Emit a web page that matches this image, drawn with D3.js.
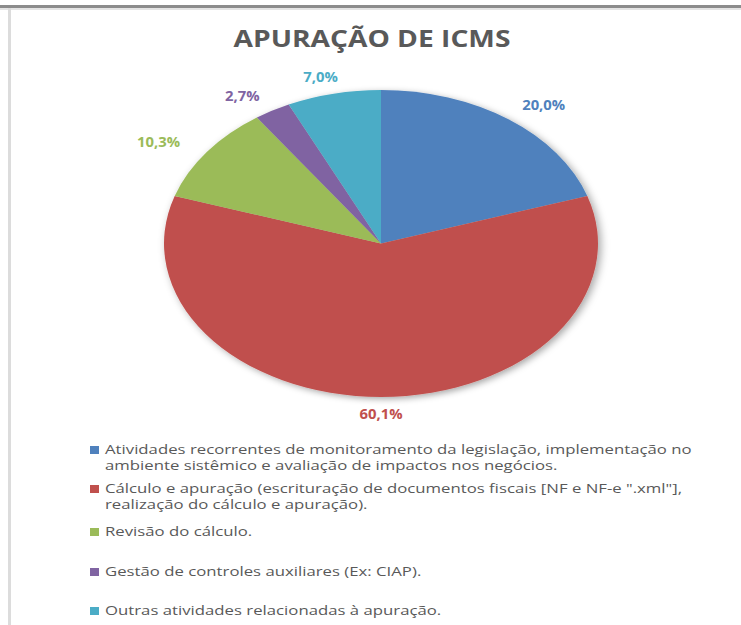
<!DOCTYPE html>
<html>
<head>
<meta charset="utf-8">
<script src="https://cdn.jsdelivr.net/npm/d3@7"></script>
<style>
  html, body { margin: 0; padding: 0; background: #fff; }
  svg { display: block; }
</style>
</head>
<body>
<div id="chart"></div>
<script>
const categories = [
    'Atividades recorrentes de monitoramento da legislação, implementação no|ambiente sistêmico e avaliação de impactos nos negócios.',
    'Cálculo e apuração (escrituração de documentos fiscais [NF e NF-e ".xml"],|realização do cálculo e apuração).',
    'Revisão do cálculo.',
    'Gestão de controles auxiliares (Ex: CIAP).',
    'Outras atividades relacionadas à apuração.'
];
const values = [20.0, 60.1, 10.3, 2.7, 7.0];
const colors = ['#4f81bd', '#c0504d', '#9bbb59', '#8064a2', '#4bacc6'];
const title = 'APURAÇÃO DE ICMS';

const width = 741;
const height = 625;
const cx = 381, cy = 243.5;
const R = 153.5;       // vertical radius
const rx = 217;        // horizontal radius (chart is stretched)
const sx = rx / R;

const svg = d3.select('#chart')
    .append('svg')
    .attr('width', width)
    .attr('height', height);

const defs = svg.append('defs');
const f = defs.append('filter').attr('id', 'shadow')
    .attr('x', '-20%').attr('y', '-20%').attr('width', '140%').attr('height', '140%');
f.append('feDropShadow')
    .attr('dx', 2).attr('dy', 2).attr('stdDeviation', 3)
    .attr('flood-color', '#000').attr('flood-opacity', 0.35);

// frame lines
svg.append('rect').attr('x', 0).attr('y', 5).attr('width', width).attr('height', 3).attr('fill', '#8c8c8c');
svg.append('rect').attr('x', 0).attr('y', 8).attr('width', width).attr('height', 2).attr('fill', '#e4e4e4');
svg.append('rect').attr('x', 8).attr('y', 8).attr('width', 3).attr('height', height).attr('fill', '#dcdcdc');

// title, widened like the stretched original
const t = svg.append('text')
    .attr('x', 0).attr('y', 0)
    .attr('text-anchor', 'middle')
    .style('font-family', '"Open Sans", sans-serif')
    .style('font-weight', 'bold')
    .style('font-size', '24px')
    .attr('fill', '#595959')
    .text(title);
const tw = t.node().getComputedTextLength();
t.attr('transform', `translate(372,47) scale(${277 / tw},1)`);

const pie = d3.pie().sort(null).value(d => d)
    .startAngle(0).endAngle(2 * Math.PI);
const arcs = pie(values);
const arc = d3.arc().innerRadius(0).outerRadius(R);

const g = svg.append('g')
    .attr('transform', `translate(${cx},${cy}) scale(${sx},1)`)
    .attr('filter', 'url(#shadow)');

g.selectAll('path')
    .data(arcs)
    .enter()
    .append('path')
    .attr('fill', (d, i) => colors[i])
    .attr('d', arc);

// labels (outside end)
const fmt = d3.format('.1f');
const offX = 60, offY = 17;
svg.append('g')
    .selectAll('text')
    .data(arcs)
    .enter()
    .append('text')
    .attr('transform', d => {
        const a = (d.startAngle + d.endAngle) / 2;
        const x = cx + Math.sin(a) * (rx + offX);
        const y = cy - Math.cos(a) * (R + offY);
        return `translate(${x},${y}) scale(1.1,1)`;
    })
    .attr('dy', '0.35em')
    .attr('text-anchor', 'middle')
    .style('font-family', '"Open Sans", sans-serif')
    .style('font-weight', 'bold')
    .style('font-size', '13.5px')
    .attr('fill', (d, i) => colors[i])
    .text(d => fmt(d.data).replace('.', ',') + '%');

// legend
const legendY = [454, 493, 536, 576, 615];
const lineH = 16.5;
const legend = svg.append('g');
const items = legend.selectAll('g')
    .data(categories)
    .enter()
    .append('g')
    .attr('transform', (d, i) => `translate(0,${legendY[i]})`);

items.append('rect')
    .attr('x', 90).attr('y', -8)
    .attr('width', 9).attr('height', 8)
    .attr('fill', (d, i) => colors[i]);

const texts = items.append('text')
    .style('font-family', '"Open Sans", sans-serif')
    .style('font-size', '13px')
    .attr('fill', '#595959');

texts.selectAll('tspan')
    .data(d => d.split('|'))
    .enter()
    .append('tspan')
    .attr('x', 0)
    .attr('y', (d, i) => i * lineH)
    .text(d => d);

// stretch legend text horizontally like the reference
const firstLine = texts.select('tspan').node();
const w = firstLine.getComputedTextLength();
const k = 587 / w;
texts.attr('transform', `translate(105,0) scale(${k},1)`);
</script>
</body>
</html>
